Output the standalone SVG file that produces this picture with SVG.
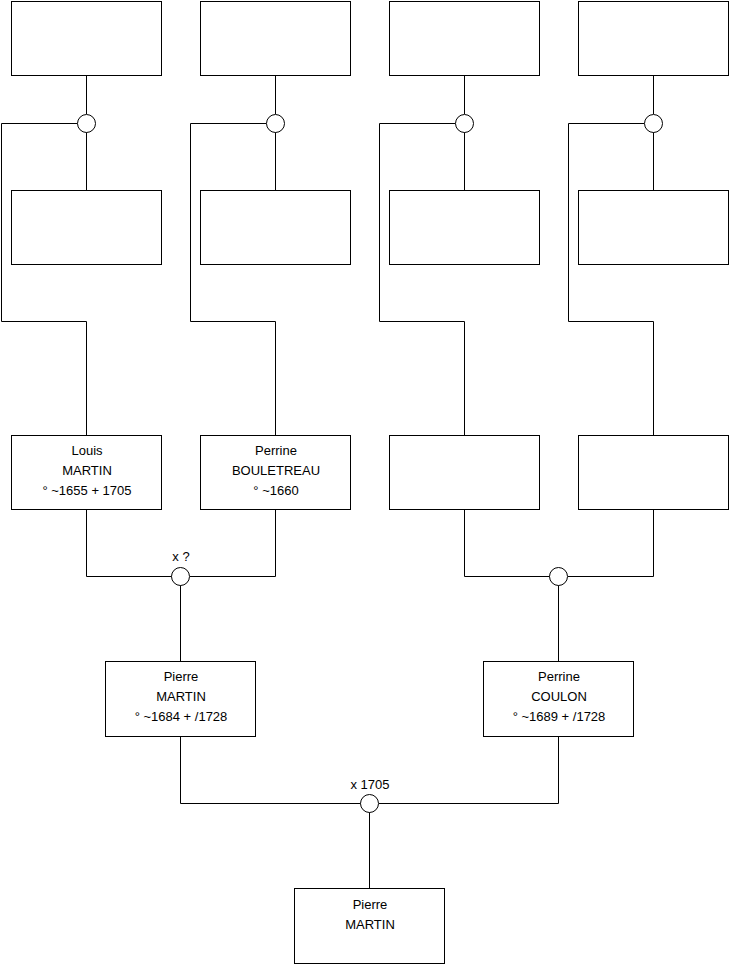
<svg xmlns="http://www.w3.org/2000/svg" width="740" height="975" viewBox="0 0 740 975">
<style>
.box{fill:#fff;stroke:#000;stroke-width:1}
.c{fill:#fff;stroke:#000;stroke-width:1}
.ln{fill:none;stroke:#000;stroke-width:1}
text{font-family:"Liberation Sans",Arial,sans-serif;font-size:13px;fill:#000;text-anchor:middle}
</style>
<rect width="740" height="975" fill="#fff"/>
<g id="connectors">
<path class="ln" d="M86.5 76V114M86.5 132V190M77.5 123.5H1.5V321.5H86.5V435"/>
<path class="ln" d="M275.5 76V114M275.5 132V190M266.5 123.5H190.5V321.5H275.5V435"/>
<path class="ln" d="M464.5 76V114M464.5 132V190M455.5 123.5H379.5V321.5H464.5V435"/>
<path class="ln" d="M653.5 76V114M653.5 132V190M644.5 123.5H568.5V321.5H653.5V435"/>
<path class="ln" d="M86.5 510V576.5H172M190 576.5H275.5V510M180.5 585V661"/>
<path class="ln" d="M464.5 510V576.5H550M568 576.5H653.5V510M558.5 585V661"/>
<path class="ln" d="M180.5 737V803.5H361M379 803.5H558.5V737M369.5 812V888"/>
</g>
<g id="m1"><circle class="c" cx="86.5" cy="123.5" r="9"/></g>
<g id="m2"><circle class="c" cx="275.5" cy="123.5" r="9"/></g>
<g id="m3"><circle class="c" cx="464.5" cy="123.5" r="9"/></g>
<g id="m4"><circle class="c" cx="653.5" cy="123.5" r="9"/></g>
<g id="m5"><circle class="c" cx="180.5" cy="576.5" r="9"/><text x="181" y="561">x ?</text></g>
<g id="m6"><circle class="c" cx="558.5" cy="576.5" r="9"/></g>
<g id="m7"><circle class="c" cx="369.5" cy="803.5" r="9"/><text x="370" y="789">x 1705</text></g>
<g id="a1"><rect class="box" x="11.5" y="1.5" width="150" height="74"/></g>
<g id="a2"><rect class="box" x="200.5" y="1.5" width="150" height="74"/></g>
<g id="a3"><rect class="box" x="389.5" y="1.5" width="150" height="74"/></g>
<g id="a4"><rect class="box" x="578.5" y="1.5" width="150" height="74"/></g>
<g id="b1"><rect class="box" x="11.5" y="190.5" width="150" height="74"/></g>
<g id="b2"><rect class="box" x="200.5" y="190.5" width="150" height="74"/></g>
<g id="b3"><rect class="box" x="389.5" y="190.5" width="150" height="74"/></g>
<g id="b4"><rect class="box" x="578.5" y="190.5" width="150" height="74"/></g>
<g id="louis"><rect class="box" x="11.5" y="435.5" width="150" height="74"/>
<text x="87" y="455">Louis</text><text x="87" y="475">MARTIN</text><text x="87" y="495">° ~1655 + 1705</text></g>
<g id="perrineB"><rect class="box" x="200.5" y="435.5" width="150" height="74"/>
<text x="276" y="455">Perrine</text><text x="276" y="475">BOULETREAU</text><text x="276" y="495">° ~1660</text></g>
<g id="c3"><rect class="box" x="389.5" y="435.5" width="150" height="74"/></g>
<g id="c4"><rect class="box" x="578.5" y="435.5" width="150" height="74"/></g>
<g id="pierre1"><rect class="box" x="105.5" y="661.5" width="150" height="75"/>
<text x="181" y="681">Pierre</text><text x="181" y="701">MARTIN</text><text x="181" y="721">° ~1684 + /1728</text></g>
<g id="perrineC"><rect class="box" x="483.5" y="661.5" width="150" height="75"/>
<text x="559" y="681">Perrine</text><text x="559" y="701">COULON</text><text x="559" y="721">° ~1689 + /1728</text></g>
<g id="pierre2"><rect class="box" x="294.5" y="888.5" width="150" height="75"/>
<text x="370" y="909">Pierre</text><text x="370" y="929">MARTIN</text></g>
</svg>
